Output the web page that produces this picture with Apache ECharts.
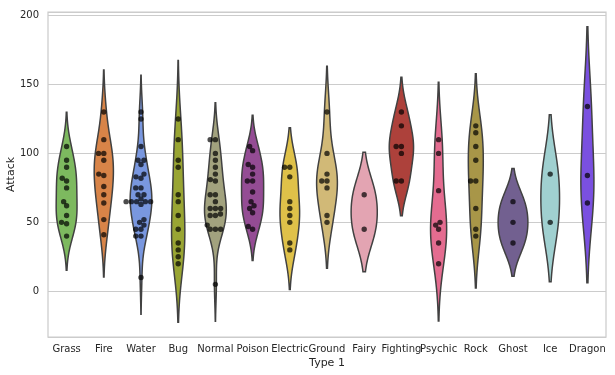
<!DOCTYPE html>
<html><head><meta charset="utf-8">
<script src="https://cdn.jsdelivr.net/npm/echarts@6/dist/echarts.min.js"></script>
<style>html,body{margin:0;padding:0;background:#fff}#c{width:615px;height:375px}</style>
</head><body><div id="c"></div>
<script>
// ---- data ----
const types = ['Grass','Fire','Water','Bug','Normal','Poison','Electric','Ground','Fairy','Fighting','Psychic','Rock','Ghost','Ice','Dragon'];
const grass = [49,62,82,50,65,80,75,90,105,40,95,55];
const fire = [52,64,84,41,76,70,110,85,100,95,130,100];
const water = [48,63,83,52,82,50,65,95,40,70,65,75,45,70,65,95,105,130,40,65,67,92,45,75,10,125,85,65];
const bug = [30,20,45,35,25,90,70,95,55,65,110,125];
const normal = [45,60,80,56,81,60,90,45,70,45,70,65,85,110,55,5,95,100,48,55,60,110];
const poison = [60,85,47,62,92,57,72,102,45,80,80,105,65,90];
const electric = [55,90,35,60,30,50,83,65,90];
const ground = [75,100,55,80,50,80,85,130];
const fairy = [45,70];
const fighting = [80,105,80,100,130,120,105];
const psychic = [20,35,50,48,73,45,110,100];
const rock = [80,95,120,45,40,60,80,115,105];
const ghost = [35,50,65];
const ice = [50,85];
const dragon = [64,84,134];
const attack = [grass,fire,water,bug,normal,poison,electric,ground,fairy,fighting,psychic,rock,ghost,ice,dragon];
const typeColors = ['#78C850','#F08030','#6890F0','#A8B820','#A8A878','#A040A0','#F8D030','#E0C068','#EE99AC','#C03028','#F85888','#B8A038','#705898','#98D8D8','#7038F8'];

// ---- helpers ----
function hexToRgb(h){return [1,3,5].map(k=>parseInt(h.substr(k,2),16)/255);}
function toHex(c){return '#'+c.map(v=>Math.round(Math.max(0,Math.min(1,v))*255).toString(16).padStart(2,'0')).join('');}
function lightness(c){return (Math.max(...c)+Math.min(...c))/2;}
function desat(hex,p){const c=hexToRgb(hex);const l=lightness(c);return toHex(c.map(v=>l+p*(v-l)));}
const fills = typeColors.map(h=>desat(h,0.75));
const lum = Math.min(...typeColors.map(h=>lightness(hexToRgb(h))))*0.6;
const edgeGray = toHex([lum,lum,lum]);

function kde(vals){
  const n=vals.length;
  const mean=vals.reduce((a,b)=>a+b,0)/n;
  const sd=Math.sqrt(vals.reduce((a,b)=>a+(b-mean)*(b-mean),0)/(n-1));
  const bw=Math.pow(n,-0.2)*sd;
  const lo=Math.min(...vals)-2*bw, hi=Math.max(...vals)+2*bw;
  const G=100, ys=[], ds=[];
  for(let g=0;g<G;g++){
    const y=lo+(hi-lo)*g/(G-1);
    let s=0;
    for(const v of vals){const z=(y-v)/bw;s+=Math.exp(-0.5*z*z);}
    ys.push(y); ds.push(s/(n*bw*Math.sqrt(2*Math.PI)));
  }
  return {ys,ds,lo,hi};
}
const kdes = attack.map(kde);
const maxDen = Math.max(...kdes.map(k=>Math.max(...k.ds)));
const dLo = Math.min(...kdes.map(k=>k.lo)), dHi = Math.max(...kdes.map(k=>k.hi));
const yMin = dLo-(dHi-dLo)*0.05, yMax = dHi+(dHi-dLo)*0.05;

function renderViolin(params, api){
  const i=params.dataIndex;
  const k=kdes[i];
  const cx=api.coord([i,0])[0];
  const band=api.size([1,0])[0];
  const right=[], left=[];
  for(let g=0;g<k.ys.length;g++){
    const py=api.coord([i,k.ys[g]])[1];
    const w=k.ds[g]/maxDen*0.4*band;
    right.push([cx+w,py]); left.push([cx-w,py]);
  }
  const pts=right.concat(left.reverse());
  return {type:'polygon',shape:{points:pts},style:{fill:fills[i],stroke:edgeGray,lineWidth:1.5}};
}

function renderSwarm(params, api){
  const i=params.dataIndex;
  const vals=attack[i].slice().sort((a,b)=>a-b);
  const cx=api.coord([i,0])[0];
  const band=api.size([1,0])[0];
  const d=5;
  const orig=vals.map(v=>[cx,-api.coord([i,v])[1]]);
  const swarm=[orig[0]];
  for(let k=1;k<orig.length;k++){
    const [xi,yi]=orig[k];
    const nb=[];
    for(let j=swarm.length-1;j>=0;j--){
      if(yi-swarm[j][1]<d) nb.unshift(swarm[j]); else break;
    }
    let cands=[[xi,yi]];
    let leftFirst=true;
    for(const [xj,yj] of nb){
      const dy=yi-yj;
      const dx=Math.sqrt(Math.max(d*d-dy*dy,0))*1.05;
      const cl=[xj-dx,yi], cr=[xj+dx,yi];
      if(leftFirst) cands.push(cl,cr); else cands.push(cr,cl);
      leftFirst=!leftFirst;
    }
    cands=cands.map((c,idx)=>({c,idx,o:Math.abs(c[0]-cx)})).sort((a,b)=>a.o-b.o||a.idx-b.idx).map(o=>o.c);
    let chosen=cands[0];
    if(nb.length){
      for(const c of cands){
        let ok=true;
        for(const n of nb){const ddx=n[0]-c[0],ddy=n[1]-c[1];if(ddx*ddx+ddy*ddy<d*d-1e-9){ok=false;break;}}
        if(ok){chosen=c;break;}
      }
    }
    swarm.push(chosen);
  }
  const lim=0.4*band;
  return {type:'group',children:swarm.map(p=>({
    type:'circle',
    shape:{cx:Math.max(cx-lim,Math.min(cx+lim,p[0])),cy:-p[1],r:2.7},
    style:{fill:'rgba(0,0,0,0.7)'}
  }))};
}

const chart=echarts.init(document.getElementById('c'),null,{renderer:'canvas'});
const font='DejaVu Sans';
chart.setOption({
  animation:false,
  backgroundColor:'#ffffff',
  grid:{left:48,right:9,top:12,bottom:38,show:true,borderColor:'#cccccc',borderWidth:1.25,containLabel:false,outerBoundsMode:'none'},
  xAxis:{
    type:'category',data:types,
    name:'Type 1',nameLocation:'middle',nameGap:21,nameMoveOverlap:false,
    nameTextStyle:{color:'#262626',fontSize:11,fontFamily:font},
    axisLine:{show:false},axisTick:{show:false},
    axisLabel:{color:'#262626',fontSize:10,fontFamily:font,margin:7,interval:0},
    splitLine:{show:false}
  },
  yAxis:{
    type:'value',min:yMin,max:yMax,splitNumber:5,
    name:'Attack',nameLocation:'middle',nameGap:31,nameRotate:90,nameMoveOverlap:false,
    nameTextStyle:{color:'#262626',fontSize:11,fontFamily:font},
    axisLine:{show:false},axisTick:{show:false},
    axisLabel:{color:'#262626',fontSize:10,fontFamily:font,margin:9,showMinLabel:false,showMaxLabel:false},
    splitLine:{show:true,lineStyle:{color:'#cccccc',width:1}}
  },
  series:[
    {type:'custom',renderItem:renderViolin,data:types.map((t,i)=>[i,0]),encode:{x:0,y:1},z:2,silent:true},
    {type:'custom',renderItem:renderSwarm,data:types.map((t,i)=>[i,0]),encode:{x:0,y:1},z:3,silent:true}
  ]
});
</script></body></html>
